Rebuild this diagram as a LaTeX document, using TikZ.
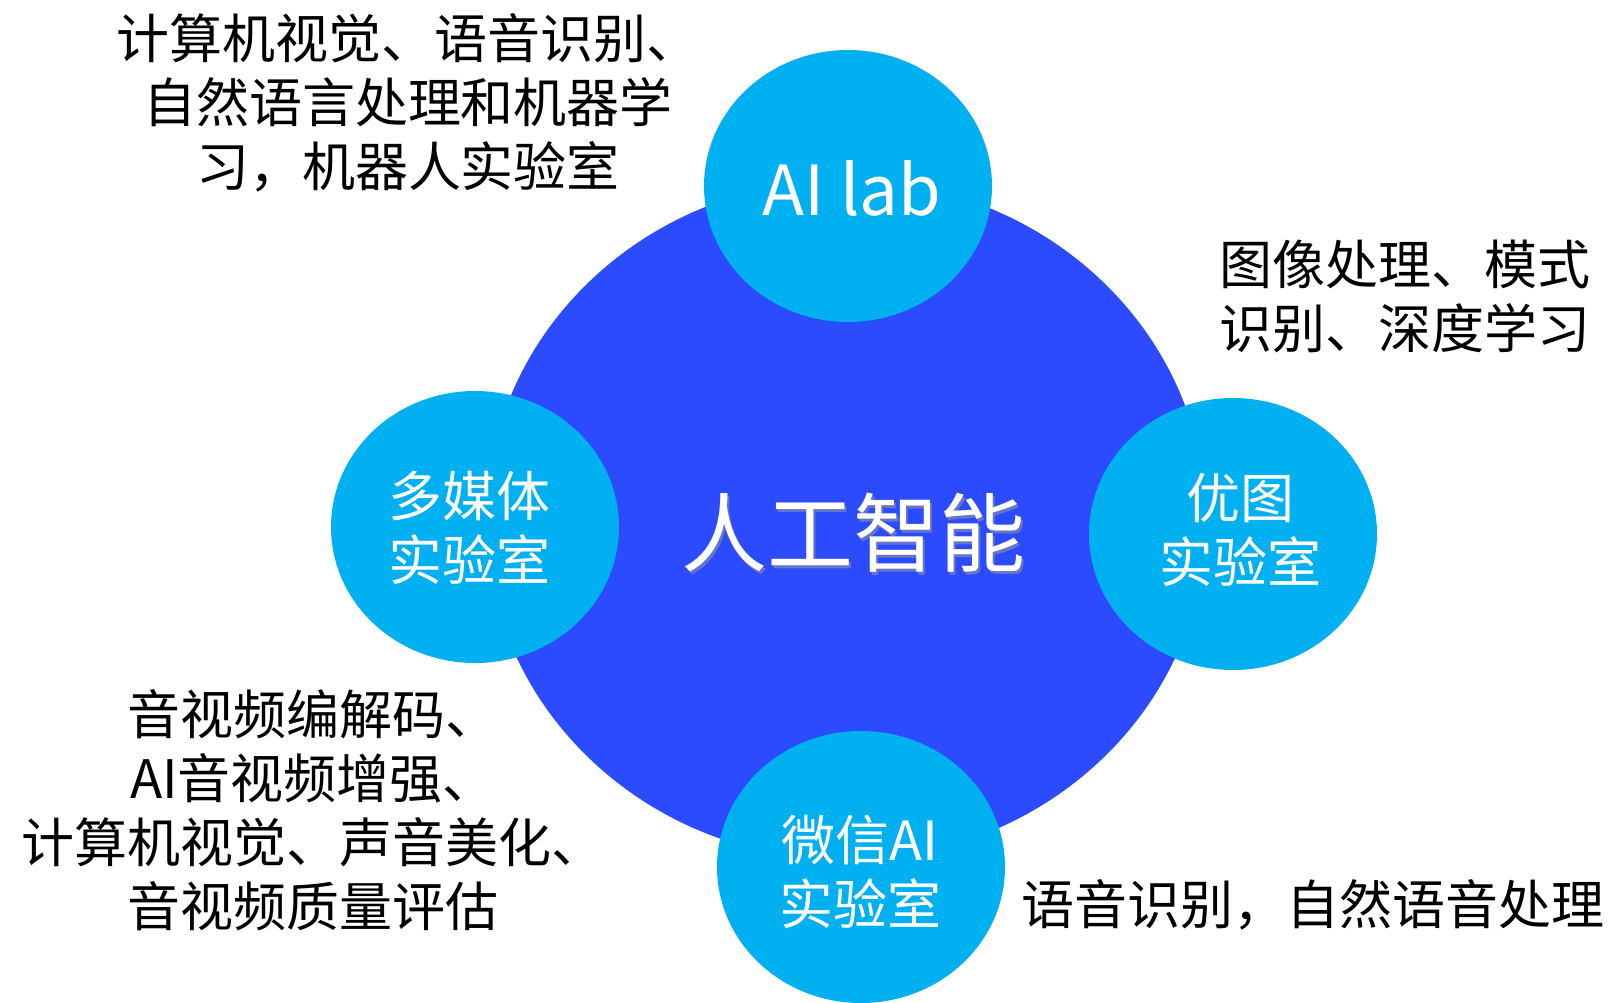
\documentclass[tikz,border=0pt]{standalone}
\usepackage{fontspec}
\setmainfont{Noto Sans CJK SC}
\usetikzlibrary{shapes.geometric}
\definecolor{bigblue}{RGB}{44,75,255}
\definecolor{lightblue}{RGB}{0,176,240}
\begin{document}
\begin{tikzpicture}[x=1pt,y=-1pt,
  core/.style={ellipse,fill=bigblue,draw=none,inner sep=0pt,minimum width=720pt,minimum height=680pt},
  lab/.style={ellipse,fill=lightblue,draw=none,inner sep=0pt,minimum width=288pt,minimum height=272pt},
  labtext/.style={text=white,inner sep=0pt,align=center,font=\fontsize{54}{64}\selectfont},
  desc/.style={text=black,inner sep=0pt,align=center,font=\fontsize{53}{64}\selectfont},
  coretext/.style={inner sep=0pt,font=\fontsize{86}{96}\selectfont}
]
\useasboundingbox (0,0) rectangle (1618,1002);
\fill[white] (0,0) rectangle (1618,1002);
% central circle
\node[core] (ai) at (846,520) {};
\node[coretext,text=black!40,opacity=0.55] (aishadow) at (855.5,535.5) {人工智能};
\node[coretext,text=white] (aitext) at (853,533) {人工智能};
% satellite circles
\node[lab] (ailab) at (848,186) {};
\node[lab] (mm) at (475,527) {};
\node[lab] (yt) at (1233,534) {};
\node[lab] (wx) at (861,867) {};
% labels in circles
\node[labtext,font=\fontsize{69}{80}\selectfont] (ailabt) at (852,188) {AI lab};
\node[labtext] (mmt) at (469,528) {多媒体\\实验室};
\node[labtext] (ytt) at (1240,530) {优图\\实验室};
\node[labtext] (wxt) at (860,872) {微信AI\\实验室};
% descriptions
\node[desc] (d1) at (408,103) {计算机视觉、语音识别、\\自然语言处理和机器学\\习，机器人实验室};
\node[desc] (d2) at (1405,296) {图像处理、模式\\识别、深度学习};
\node[desc] (d3) at (313,810) {音视频编解码、\\AI音视频增强、\\计算机视觉、声音美化、\\音视频质量评估};
\node[desc,anchor=west] (d4) at (1021,905) {语音识别，自然语音处理};
\end{tikzpicture}
\end{document}
